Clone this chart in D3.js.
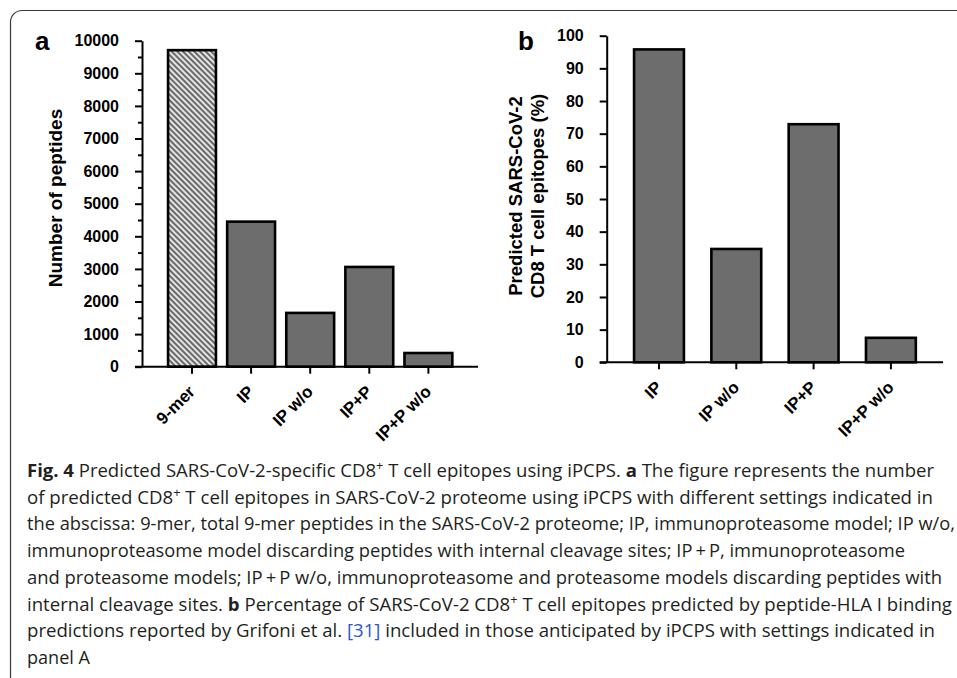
<!DOCTYPE html>
<html>
<head>
<meta charset="utf-8">
<script src="https://cdn.jsdelivr.net/npm/d3@7"></script>
<style>
  body { margin: 0; background: #fff; }
  svg { display: block; }
  .tickText { font-family: "Liberation Sans", Arial, sans-serif; font-weight: bold; font-size: 16px; fill: #000; }
  .catText { font-size: 17px; }
  .axisTitle { font-family: "Liberation Sans", Arial, sans-serif; font-weight: bold; font-size: 19px; fill: #000; }
  .panelLabel { font-family: "Liberation Sans", Arial, sans-serif; font-weight: bold; font-size: 26px; fill: #000; }
  .caption { font-family: "Open Sans", "Noto Sans", sans-serif; font-size: 17.5px; fill: #231f20; }
</style>
</head>
<body>
<script>
// panel a data
var catsA = ["9-mer", "IP", "IP w/o", "IP+P", "IP+P w/o"];
var valuesA = [9710, 4450, 1650, 3060, 420];
var ticksA = [0, 1000, 2000, 3000, 4000, 5000, 6000, 7000, 8000, 9000, 10000];
var minorTicksA = [500, 1500, 2500, 3500, 4500, 5500, 6500, 7500, 8500, 9500];

// panel b data
var catsB = ["IP", "IP w/o", "IP+P", "IP+P w/o"];
var valuesB = [95.8, 34.7, 72.9, 7.5];
var ticksB = [0, 10, 20, 30, 40, 50, 60, 70, 80, 90, 100];

// caption lines
var captionLines = [
  [["b", "Fig. 4"], ["n", "  Predicted SARS-CoV-2-specific CD8"], ["sup", "+"], ["n", " T cell epitopes using iPCPS. "], ["b", "a"], ["n", " The figure represents the number"]],
  [["n", "of predicted CD8"], ["sup", "+"], ["n", " T cell epitopes in SARS-CoV-2 proteome using iPCPS with different settings indicated in"]],
  [["n", "the abscissa: 9-mer, total 9-mer peptides in the SARS-CoV-2 proteome; IP, immunoproteasome model; IP w/o,"]],
  [["n", "immunoproteasome model discarding peptides with internal cleavage sites; IP\u2009+\u2009P, immunoproteasome"]],
  [["n", "and proteasome models; IP\u2009+\u2009P w/o, immunoproteasome and proteasome models discarding peptides with"]],
  [["n", "internal cleavage sites. "], ["b", "b"], ["n", " Percentage of SARS-CoV-2 CD8"], ["sup", "+"], ["n", " T cell epitopes predicted by peptide-HLA I binding"]],
  [["n", "predictions reported by Grifoni et al. "], ["link", "[31]"], ["n", " included in those anticipated by iPCPS with settings indicated in"]],
  [["n", "panel A"]]
];
var captionEnds = [934, 933, 955, 905, 942, 952, 935, 90];

var svgWidth = 957;
var svgHeight = 678;

var svg = d3.select("body")
  .append("svg")
  .attr("width", svgWidth)
  .attr("height", svgHeight);

// hatch for the 9-mer bar
var defs = svg.append("defs");
var hatch = defs.append("pattern")
  .attr("id", "hatch")
  .attr("patternUnits", "userSpaceOnUse")
  .attr("width", 4)
  .attr("height", 4)
  .attr("patternTransform", "rotate(-45)");
hatch.append("rect").attr("width", 4).attr("height", 4).attr("fill", "#e4e4e4");
hatch.append("rect").attr("width", 2).attr("height", 4).attr("fill", "#6a6a6a");

// frame round the figure
svg.append("path")
  .attr("d", "M10.5,678 V22 A11.5,11.5 0 0 1 22,10.5 H957")
  .attr("fill", "none")
  .attr("stroke", "#3a3a3a")
  .attr("stroke-width", 1.2);

function styleAxis(g) {
  g.selectAll("path, line").attr("stroke", "#000").attr("stroke-width", 2);
  g.selectAll("text").attr("class", "tickText").attr("fill", "#000").attr("font-size", null).attr("font-family", null);
}

function drawPanel(opts) {
  var x = d3.scaleBand()
    .domain(opts.cats)
    .range(opts.xRange)
    .paddingInner(opts.padIn)
    .paddingOuter(opts.padIn / 2);

  var y = d3.scaleLinear()
    .domain([0, opts.max])
    .range(opts.yRange);

  var g = svg.append("g");

  // y axis
  var yAxis = g.append("g")
    .attr("transform", `translate(${opts.axisX}, 0)`)
    .call(d3.axisLeft(y).tickValues(opts.ticks).tickSize(7).tickSizeOuter(0).tickPadding(16).tickFormat(d3.format("d")));
  styleAxis(yAxis);

  if (opts.minor) {
    var minor = g.append("g")
      .attr("transform", `translate(${opts.axisX}, 0)`)
      .call(d3.axisLeft(y).tickValues(opts.minor).tickSize(4).tickFormat(""));
    minor.select(".domain").remove();
    styleAxis(minor);
  }

  // bars
  g.selectAll("rect.bar")
    .data(opts.values)
    .enter()
    .append("rect")
    .attr("class", "bar")
    .attr("x", (d, i) => x(opts.cats[i]))
    .attr("width", x.bandwidth())
    .attr("y", d => y(d))
    .attr("height", d => y(0) - y(d))
    .attr("fill", (d, i) => (opts.hatched && i === 0) ? "url(#hatch)" : "#6d6d6d")
    .attr("stroke", "#000")
    .attr("stroke-width", 2.6);

  // x axis
  var xAxis = g.append("g")
    .attr("transform", `translate(0, ${y(0)})`)
    .call(d3.axisBottom(x).tickSize(7).tickSizeOuter(0));
  xAxis.select(".domain").remove();
  xAxis.append("line")
    .attr("x1", opts.axisX - 7)
    .attr("x2", opts.xEnd)
    .attr("y1", 0)
    .attr("y2", 0);
  styleAxis(xAxis);
  xAxis.selectAll("text")
    .classed("catText", true)
    .attr("x", 0)
    .attr("y", 0)
    .attr("dy", 0)
    .attr("transform", "translate(4, 26) rotate(-45)")
    .style("text-anchor", "end");

  // y title
  var title = g.append("text")
    .attr("class", "axisTitle")
    .style("font-size", opts.titleSize + "px")
    .attr("transform", `translate(${opts.titleX}, ${opts.titleY}) rotate(-90)`)
    .attr("text-anchor", "middle");
  opts.title.forEach(function(line, i) {
    title.append("tspan")
      .attr("x", 0)
      .attr("dy", i === 0 ? 0 : 22)
      .text(line);
  });

  g.append("text")
    .attr("class", "panelLabel")
    .attr("x", opts.labelX)
    .attr("y", 50)
    .text(opts.label);
}

drawPanel({
  cats: catsA, values: valuesA, ticks: ticksA, minor: minorTicksA, max: 10000,
  xRange: [162.45, 457.95], padIn: 0.19, yRange: [366.7, 40.7],
  axisX: 142, xEnd: 478, hatched: true,
  title: ["Number  of peptides"], titleSize: 19, titleX: 62, titleY: 198,
  label: "a", labelX: 35
});

drawPanel({
  cats: catsB, values: valuesB, ticks: ticksB, max: 100,
  xRange: [620.35, 929.55], padIn: 0.355, yRange: [362.3, 35.7],
  axisX: 606.7, xEnd: 943, hatched: false,
  title: ["Predicted SARS-CoV-2", "CD8 T cell epitopes (%)"], titleSize: 18.5, titleX: 522, titleY: 196,
  label: "b", labelX: 518
});

// caption
captionLines.forEach(function(parts, i) {
  var t = svg.append("text")
    .attr("class", "caption")
    .attr("x", 27)
    .attr("y", 477 + i * 26.7)
    .attr("textLength", captionEnds[i] - 27)
    .attr("lengthAdjust", "spacingAndGlyphs");
  parts.forEach(function(p) {
    var s = t.append("tspan").text(p[1]);
    if (p[0] === "b") s.attr("font-weight", "bold");
    if (p[0] === "link") s.attr("fill", "#2d58c8");
    if (p[0] === "sup") {
      s.attr("font-size", "12px").attr("dy", -7);
    }
  });
  // put baseline back after superscripts
  t.selectAll("tspan").each(function(d, j, nodes) {
    var prev = j > 0 ? d3.select(nodes[j - 1]) : null;
    if (prev && prev.attr("font-size") === "12px") d3.select(this).attr("dy", 7);
  });
});
</script>
</body>
</html>
